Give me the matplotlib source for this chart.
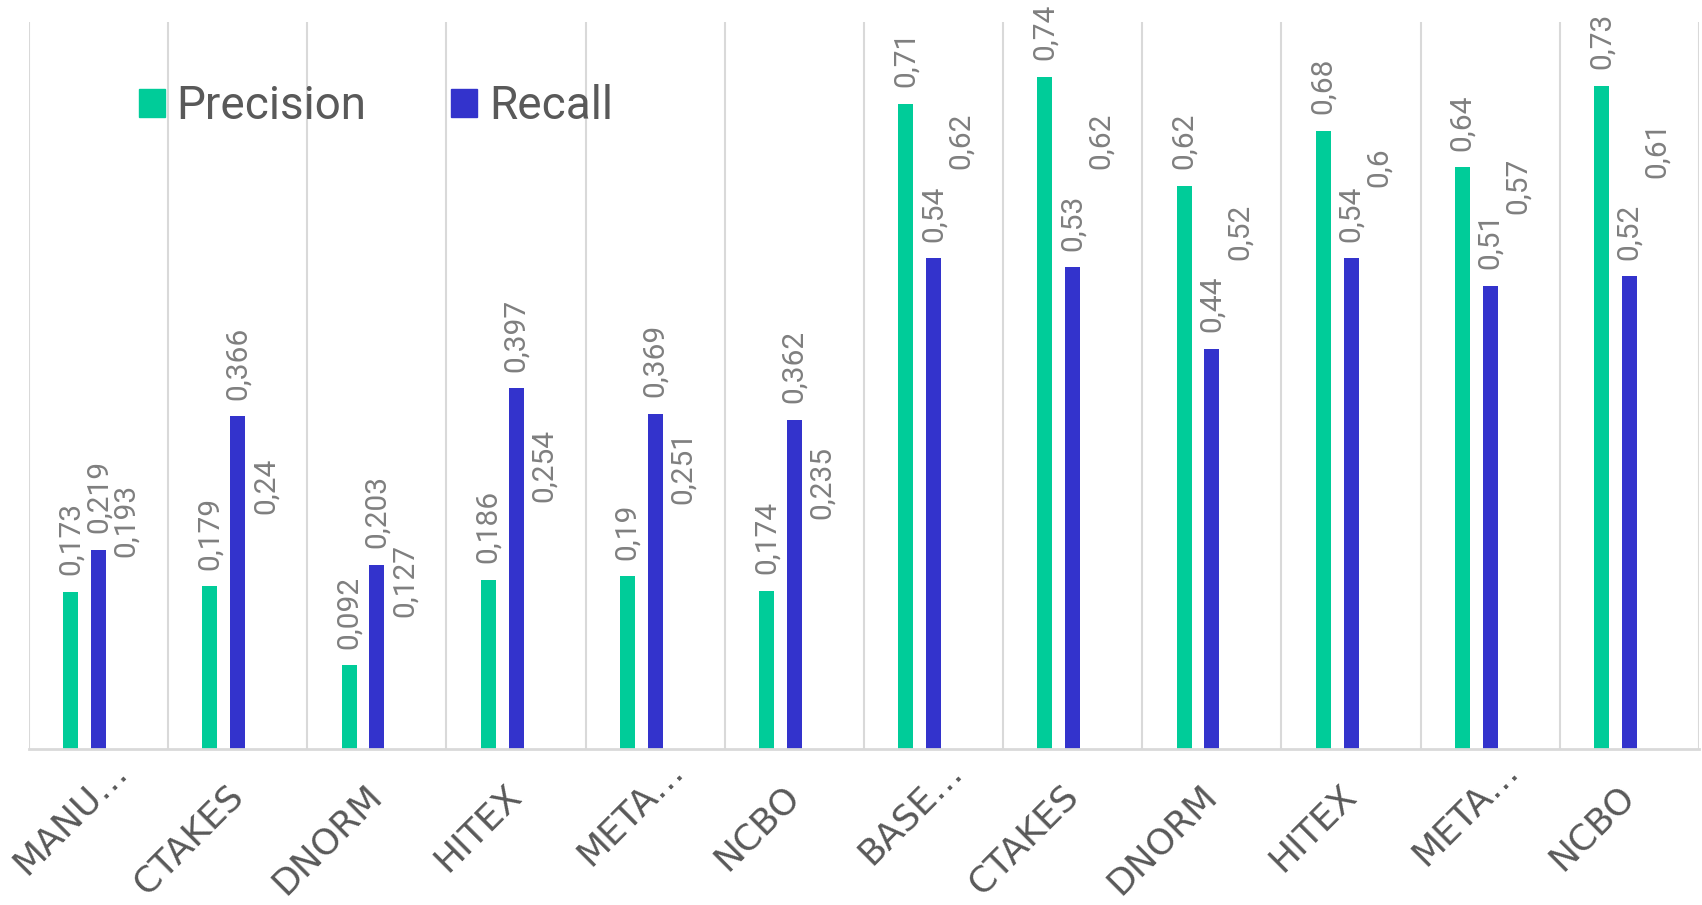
import matplotlib
matplotlib.use("Agg")
import matplotlib.pyplot as plt
import matplotlib.transforms as mtrans
from matplotlib.patches import Patch
import numpy as np

categories = ["MANU…", "CTAKES", "DNORM", "HITEX", "META…", "NCBO",
              "BASE…", "CTAKES", "DNORM", "HITEX", "META…", "NCBO"]
precision = [0.173, 0.179, 0.092, 0.186, 0.19, 0.174, 0.71, 0.74, 0.62, 0.68, 0.64, 0.73]
recall = [0.219, 0.366, 0.203, 0.397, 0.369, 0.362, 0.54, 0.53, 0.44, 0.54, 0.51, 0.52]
fmeasure = [0.193, 0.24, 0.127, 0.254, 0.251, 0.235, 0.62, 0.62, 0.52, 0.6, 0.57, 0.61]

C_PREC = "#00CC99"
C_REC = "#3333CC"
GRID = "#D9D9D9"
LBL = "#7F7F7F"
TXT = "#595959"

W, H = 1702, 905
DPI = 100
fig = plt.figure(figsize=(W / DPI, H / DPI), dpi=DPI)
ax = fig.add_axes([29 / W, 1 - 749 / H, (1699 - 29) / W, (749 - 22) / H])

x = np.arange(len(categories))
bw = 0.108
off = 0.2

b1 = ax.bar(x - off, precision, bw, color=C_PREC, label="Precision", zorder=3)
b2 = ax.bar(x, recall, bw, color=C_REC, label="Recall", zorder=3)
b3 = ax.bar(x + off, fmeasure, bw, color="none", linewidth=0, zorder=3)

lab_font = dict(family=["Roboto", "DejaVu Sans"], size=21.5, color=LBL)
for bars, vals in ((b1, precision), (b2, recall), (b3, fmeasure)):
    for r, v in zip(bars, vals):
        ax.annotate(f"{v:g}".replace(".", ","),
                    (r.get_x() + r.get_width() / 2, r.get_height()),
                    xytext=(0, 12), textcoords="offset points",
                    rotation=90, ha="center", va="bottom", **lab_font)

ax.set_xlim(-0.5, len(categories) - 0.5)
ax.set_ylim(0, 0.8)

ax.set_xticks(x)
ax.set_xticklabels(categories, rotation=45, ha="right", va="top",
                   rotation_mode="anchor", fontsize=26, color=TXT,
                   family="DejaVu Sans")
ax.tick_params(axis="x", length=0, pad=0)
for lab in ax.get_xticklabels():
    if lab.get_text().endswith("…"):
        dx, dy = 11, 4.5
    else:
        dx, dy = -12, 29.5
    shift = mtrans.ScaledTranslation(dx / DPI, -dy / DPI, fig.dpi_scale_trans)
    lab.set_transform(lab.get_transform() + shift)
ax.set_yticks([])
ax.set_xticks(np.arange(-0.5, len(categories) + 0.5, 1), minor=True)
ax.tick_params(axis="x", which="minor", length=0)
ax.grid(True, axis="x", which="minor", color=GRID, linewidth=1.5, zorder=0)
ax.grid(False, axis="x", which="major")

for s in ("top", "left", "right"):
    ax.spines[s].set_visible(False)
ax.spines["bottom"].set_color(GRID)
ax.spines["bottom"].set_linewidth(2)
ax.spines["bottom"].set_zorder(4)

handles = [Patch(color=C_PREC, label="Precision"), Patch(color=C_REC, label="Recall")]
leg = ax.legend(handles=handles, ncol=2, frameon=False, loc="upper left",
                bbox_to_anchor=(139 / W, 1 - 84 / H), bbox_transform=fig.transFigure,
                borderpad=0, borderaxespad=0, handlelength=0.56, handleheight=0.56,
                handletextpad=0.26, columnspacing=1.85,
                prop=dict(family=["Roboto", "DejaVu Sans"], size=33))
for t in leg.get_texts():
    t.set_color(TXT)

fig.savefig("out.png", dpi=DPI)
